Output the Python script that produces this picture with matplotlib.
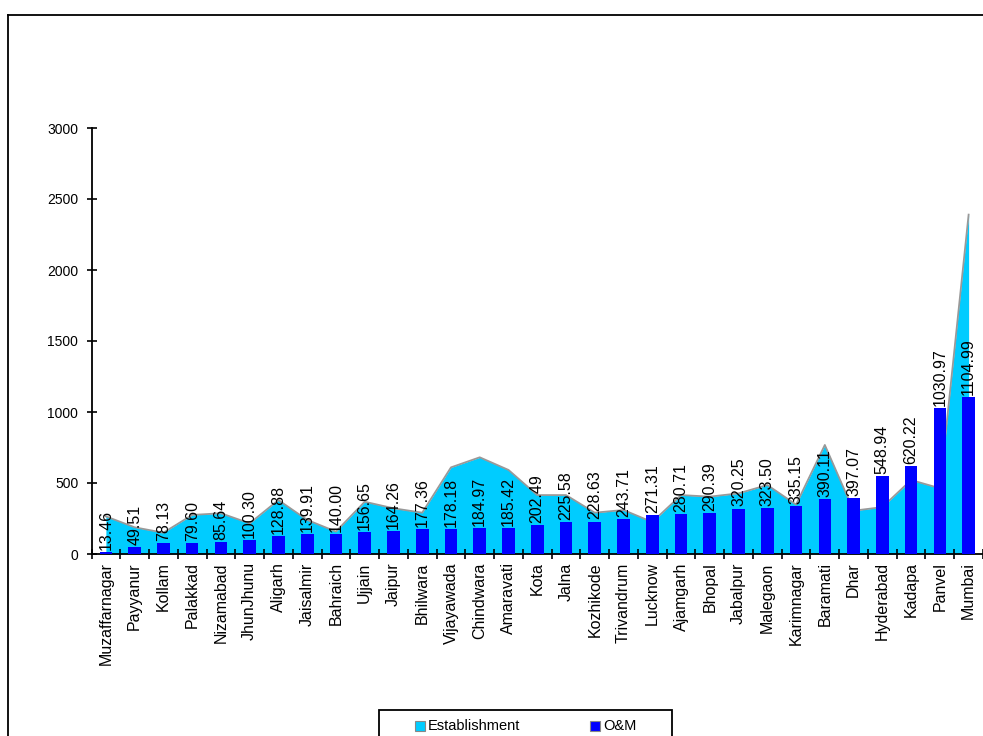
import numpy as np
import matplotlib
matplotlib.use('Agg')
import matplotlib.pyplot as plt
from matplotlib.patches import Rectangle
from matplotlib.lines import Line2D

plt.rcParams['font.family'] = ['Liberation Sans', 'DejaVu Sans']

# Data section
#=====================================================================================================================
cities = ['Muzaffarnagar', 'Payyanur', 'Kollam', 'Palakkad', 'Nizamabad', 'JhunJhunu',
          'Aligarh', 'Jaisalmir', 'Bahraich', 'Ujjain', 'Jaipur', 'Bhilwara', 'Vijayawada',
          'Chindwara', 'Amaravati', 'Kota', 'Jalna', 'Kozhikode', 'Trivandrum', 'Lucknow',
          'Ajamgarh', 'Bhopal', 'Jabalpur', 'Malegaon', 'Karimnagar', 'Baramati', 'Dhar',
          'Hyderabad', 'Kadapa', 'Panvel', 'Mumbai']

# O&M cost (bars, labelled)
om = [13.46, 49.51, 78.13, 79.60, 85.64, 100.30, 128.88, 139.91, 140.00, 156.65,
      164.26, 177.36, 178.18, 184.97, 185.42, 202.49, 225.58, 228.63, 243.71, 271.31,
      280.71, 290.39, 320.25, 323.50, 335.15, 390.11, 397.07, 548.94, 620.22, 1030.97,
      1104.99]

# Establishment cost (area)
estab = [265, 188, 150, 275, 287, 216, 380, 240, 158, 368,
         322, 291, 610, 681, 592, 415, 415, 291, 310, 225,
         415, 404, 427, 486, 348, 768, 305, 330, 521, 463,
         2390]

yticks = [0, 500, 1000, 1500, 2000, 2500, 3000]

# Plot section
#=====================================================================================================================
W, H = 983, 736
fig = plt.figure(figsize=(W/100., H/100.), dpi=100)
ax = fig.add_axes([91.5/W, 1-554./H, (W-91.5)/W, (554.-128.)/H])

x = np.arange(len(cities))
ax.fill_between(x, estab, 0, color='#00CCFF', linewidth=0, zorder=1)
ax.plot(x, estab, color='#999999', lw=1.3, zorder=2)
ax.bar(x, om, width=0.44, color='#0000FF', zorder=3)

for i in range(len(om)):
    ax.annotate('%.2f' % om[i], (x[i], om[i]), xytext=(0, 1.5), textcoords='offset points',
                rotation=90, ha='center', va='bottom', fontsize=11.5, zorder=4)

ax.set_xlim(-0.5, len(cities)-0.5)
ax.set_ylim(0, 3000)
ax.set_yticks(yticks)
ax.set_yticklabels([str(v) for v in yticks], fontsize=10)
ax.set_xticks(x)
ax.set_xticklabels(cities, rotation=90, fontsize=11.5, va='top')
ax.set_xticks(np.arange(-0.5, len(cities)), minor=True)
ax.tick_params(axis='x', which='major', length=0, pad=6)
ax.tick_params(axis='x', which='minor', direction='inout', length=7, width=1.2)
ax.tick_params(axis='y', direction='inout', length=7, width=1.2, pad=6)
for s in ['top', 'right']:
    ax.spines[s].set_visible(False)
for s in ['left', 'bottom']:
    ax.spines[s].set_linewidth(1.3)
ax.set_facecolor('none')

# outer chart border (cut at right/bottom)
fig.add_artist(Line2D([8./W, 8./W], [0, 1-15./H], color='black', lw=1.3))
fig.add_artist(Line2D([8./W, 1], [1-15./H, 1-15./H], color='black', lw=1.3))

# legend box (cut at bottom of picture)
fig.add_artist(Rectangle((379./W, -0.02), 293./W, 0.02+1-710./H, transform=fig.transFigure,
                         facecolor='white', edgecolor='black', lw=1.3))
fig.add_artist(Rectangle((415./W, 1-731./H), 10./W, 10./H, transform=fig.transFigure,
                         facecolor='#00CCFF', edgecolor='#888888', lw=0.8))
fig.text(428./W, 1-726./H, 'Establishment', fontsize=10.5, va='center', ha='left')
fig.add_artist(Rectangle((590./W, 1-731./H), 10./W, 10./H, transform=fig.transFigure,
                         facecolor='#0000FF', edgecolor='#888888', lw=0.8))
fig.text(603./W, 1-726./H, 'O&M', fontsize=10.5, va='center', ha='left')

fig.savefig('out.png', dpi=100)
